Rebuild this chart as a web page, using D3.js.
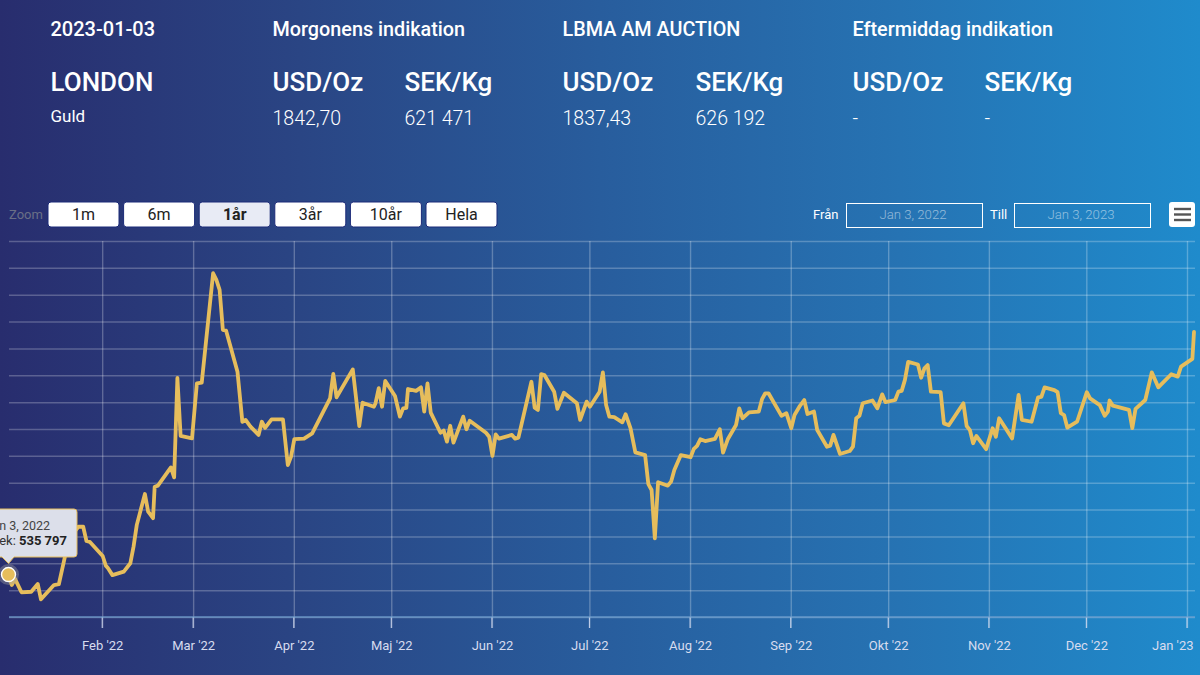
<!DOCTYPE html>
<html><head><meta charset="utf-8">
<script src="https://cdnjs.cloudflare.com/ajax/libs/d3/7.8.5/d3.min.js"></script>
<style>html,body{margin:0;padding:0;overflow:hidden;background:#28609f}svg{display:block;font-family:Roboto,sans-serif}</style>
</head><body>
<script>
// days since 2022-01-03
const dayOffsets = [0,1,2,4,7,9,10,14,15.5,17.5,19.5,21.5,23,24,25,29,30,30.5,32,35.5,37.5,38.5,39.5,42,43,44.5,45,46,50,51,52,53,56.5,58,59.5,63,64,65,66,67,70.5,72,73,74.5,77,78,79,81,84.5,86,87,88,91,93.5,99,100,101,106,108,109,112.5,113,114,115,116,119,120.5,121.5,122.5,123,125.5,127,128,129,130,133,134,135,136,137,140,141,142,147,148,149,150,151,155,156,157,161,162,163,164,165,168,169,171,175,176,178,179,182,183,184,185,186.5,189,190,191.5,193,196,197,198,199,200,203,204,205,207,210,211,212,213,214.5,217.5,219,220,221.5,224,225,226,228,231,232,233,234,238,239.5,241,242,243.5,245,246,248,249,252,253,254,256,259,260,261,262,263,266,267.5,269,270,273,274,275,276,277,280,281,282,283,284,287,288,289.5,294,295,296,297,298,301,303,304,305,309,311,312,315,317,318,319,322,323,324,325,326,329,332,333,336,337.5,338.5,339,340,345,346,347,350,352,354,358,360,361,364.5,365];
// SEK per kg, thousands
const sekThousands = [535.797,531.9,534.2,529.2,529.4,532.3,526.6,531.9,532.2,543.1,550.5,553.6,553.6,548.3,548.0,542.7,539.0,538.4,535.6,536.9,540.0,546.2,554.3,565.8,559.2,556.8,568.5,568.9,575.7,572.0,609.0,587.4,586.5,607.0,607.3,648.0,645.5,641.8,626.9,626.6,611.3,592.7,593.4,590.9,587.8,592.7,590.4,593.6,593.6,576.6,579.7,586.2,586.4,588.4,601.4,610.5,601.8,612.2,591.1,599.8,598.3,599.6,605.2,598.3,607.9,602.3,594.6,597.7,597.9,604.9,604.2,605.5,596.5,607.0,596.1,588.6,589.4,585.3,591.2,584.9,594.6,589.9,593.1,588.6,587.1,580.0,588.0,586.4,587.8,586.4,586.8,607.6,597.9,597.1,610.4,610.1,603.9,597.5,603.5,599.6,593.4,600.2,598.3,603.9,611.1,598.9,594.6,594.4,592.5,595.5,590.3,581.3,580.3,569.5,567.3,549.3,570.2,568.9,570.4,574.7,580.3,579.5,582.6,583.7,586.2,585.5,586.3,589.9,581.2,586.3,591.5,597.7,594.0,596.2,596.5,601.1,603.3,603.3,594.9,595.9,590.3,595.2,598.3,600.8,595.6,596.5,589.6,583.4,583.8,587.8,580.7,581.8,583.4,594.0,594.9,599.6,600.6,597.7,602.9,600.0,600.8,603.9,604.2,608.3,615.0,614.0,609.1,612.6,613.8,603.9,603.7,592.1,591.4,599.6,591.1,589.6,584.7,587.4,582.5,590.3,587.1,594.0,586.5,602.7,593.4,592.7,601.8,602.0,605.5,604.5,603.7,595.9,595.2,590.5,592.7,603.7,601.4,598.9,594.9,596.5,600.6,598.7,597.1,590.3,597.5,600.8,611.1,605.5,610.4,609.5,613.2,616.1,626.192];
const monthStarts = ["2022-02-01","2022-03-01","2022-04-01","2022-05-01","2022-06-01","2022-07-01","2022-08-01","2022-09-01","2022-10-01","2022-11-01","2022-12-01","2023-01-01"];
const monthLabels = ["Feb '22","Mar '22","Apr '22","Maj '22","Jun '22","Jul '22","Aug '22","Sep '22","Okt '22","Nov '22","Dec '22","Jan '23"];
const yTicks = d3.range(520, 661, 10);
const zoomButtons = ["1m","6m","1år","3år","10år","Hela"];
const activeZoom = "1år";
const headerCols = [
  {x0:272.5,x1:404.5,title:"Morgonens indikation",a:"1842,70",b:"621 471"},
  {x0:562.5,x1:695.5,title:"LBMA AM AUCTION",a:"1837,43",b:"626 192"},
  {x0:852.5,x1:984.5,title:"Eftermiddag indikation",a:"-",b:"-"}
];

const W=1200,H=675;
const svg=d3.select("body").append("svg").attr("width",W).attr("height",H).attr("viewBox",`0 0 ${W} ${H}`);
const defs=svg.append("defs");
const g=defs.append("linearGradient").attr("id","bg").attr("x1","0").attr("y1","0").attr("x2","1").attr("y2","0");
[[0,"#282d6e"],[0.25,"#2a4584"],[0.5,"#285d9d"],[0.75,"#2673b3"],[1,"#1f8bcc"]].forEach(d=>g.append("stop").attr("offset",d[0]).attr("stop-color",d[1]));
svg.append("rect").attr("width",W).attr("height",H).attr("fill","url(#bg)");

// header
const T=(x,y,s,size,weight,fill)=>svg.append("text").attr("x",x).attr("y",y).text(s).attr("font-size",size).attr("font-weight",weight).attr("fill",fill||"#fff");
T(50.5,35.5,"2023-01-03",20,500);
T(50.5,91,"LONDON",26,500);
T(50.5,122,"Guld",17,400);
headerCols.forEach(c=>{
  T(c.x0,35.5,c.title,19.8,500);
  T(c.x0,91,"USD/Oz",26,500);
  T(c.x1,91,"SEK/Kg",26,500);
  T(c.x0,125,c.a,19.5,300);
  T(c.x1,125,c.b,19.5,300);
});

// controls
T(9,219,"Zoom",13,400,"#6a6f86");
const btn=svg.append("g").selectAll("g").data(zoomButtons).join("g").attr("transform",(d,i)=>`translate(${48+i*75.6},202)`);
btn.append("rect").attr("width",71).attr("height",25).attr("rx",3).attr("fill",d=>d===activeZoom?"#e8ebf5":"#fff").attr("stroke","#1b2a78").attr("stroke-width",1);
btn.append("text").attr("x",35.5).attr("y",18).attr("text-anchor","middle").attr("font-size",16).attr("font-weight",d=>d===activeZoom?700:400).attr("fill","#222").text(d=>d);
T(813,219,"Från",13,400);
T(990,219,"Till",13,400);
[[847,"Jan 3, 2022"],[1015,"Jan 3, 2023"]].forEach(d=>{
  svg.append("rect").attr("x",d[0]-.5).attr("y",203.5).attr("width",136).attr("height",24).attr("fill","none").attr("stroke","#fff").attr("stroke-width",1);
  svg.append("text").attr("x",d[0]+66).attr("y",219).attr("text-anchor","middle").attr("font-size",13.2).attr("font-weight",300).attr("fill","rgba(255,255,255,.5)").text(d[1]);
});
svg.append("rect").attr("x",1169).attr("y",202).attr("width",26).attr("height",25).attr("rx",3).attr("fill","#fff");
[209,214.5,220].forEach(y=>svg.append("line").attr("x1",1174).attr("x2",1191).attr("y1",y).attr("y2",y).attr("stroke","#555").attr("stroke-width",2.4));

// scales
const start=new Date(2022,0,3);
const toDate=d=>new Date(start.getTime()+d*864e5);
const x=d3.scaleTime().domain([toDate(0),toDate(365)]).range([8.5,1194]);
const y=d3.scaleLinear().domain([520,660]).range([617,241]);

// grid
const gridY=svg.append("g").attr("transform","translate(9,0)")
  .call(d3.axisLeft(y).tickValues(yTicks).tickSize(-1186).tickFormat(""));
gridY.select(".domain").remove();
gridY.selectAll("line").attr("stroke","rgba(255,255,255,.24)").attr("stroke-width",1.5);
const months=monthStarts.map(s=>{const p=s.split("-");return new Date(+p[0],+p[1]-1,+p[2]);});
const gridX=svg.append("g").attr("transform","translate(-0.5,628)")
  .call(d3.axisBottom(x).tickValues(months).tickSize(-387).tickPadding(0).tickFormat((d,i)=>monthLabels[i]));
gridX.select(".domain").remove();
gridX.selectAll("line").attr("stroke","rgba(255,255,255,.26)").attr("stroke-width",1.4);
gridX.selectAll("text").attr("y",22).attr("dy",0).attr("font-size",13).attr("font-family","Roboto,sans-serif").attr("fill","#d7dcef");
// the last label is pushed inward so it stays on the page
gridX.selectAll("text").filter((d,i)=>i===monthLabels.length-1).attr("text-anchor","end").attr("dx",6);
// short bright tick marks under the plot
svg.append("g").selectAll("line").data(months).join("line")
  .attr("x1",d=>x(d)-.5).attr("x2",d=>x(d)-.5).attr("y1",617).attr("y2",628).attr("stroke","#cfd8ee").attr("stroke-width",1);
svg.append("line").attr("x1",9).attr("x2",1195).attr("y1",y(520)).attr("y2",y(520)).attr("stroke","#6f9fd0").attr("stroke-width",1.4).attr("stroke-opacity",.8);

// line
const series=dayOffsets.map((d,i)=>({date:toDate(d),v:sekThousands[i]}));
const line=d3.line().x(d=>x(d.date)).y(d=>y(d.v));
svg.append("path").datum(series).attr("d",line).attr("fill","none").attr("stroke","#e6bd5c").attr("stroke-width",3.8).attr("stroke-linejoin","round").attr("stroke-linecap","round");

// tooltip
const px=x(series[0].date), py=y(series[0].v);
svg.append("circle").attr("cx",px).attr("cy",py).attr("r",10.5).attr("fill","rgba(160,160,160,.4)");
svg.append("circle").attr("cx",px).attr("cy",py).attr("r",7).attr("fill","#e6bd5c").attr("stroke","#fff").attr("stroke-width",1.4);
const path=d3.path();
path.moveTo(-6,509);path.lineTo(74,509);path.quadraticCurveTo(77,509,77,512);path.lineTo(77,554);path.quadraticCurveTo(77,557,74,557);path.lineTo(14,557);path.lineTo(px,py-11);path.lineTo(2,557);path.lineTo(-6,557);path.closePath();
svg.append("path").attr("d",path.toString()).attr("fill","#dcdfea").attr("stroke","#e6bd5c").attr("stroke-width",1);
svg.append("text").attr("x",50).attr("y",530).attr("text-anchor","end").attr("font-size",12.5).attr("fill","#444").text("Jan 3, 2022");
const tt=svg.append("text").attr("x",67).attr("y",545).attr("text-anchor","end").attr("font-size",13).attr("fill","#333");
tt.append("tspan").text("Sek: ");
tt.append("tspan").attr("font-weight",700).attr("fill","#222").text("535 797");
</script>
</body></html>
